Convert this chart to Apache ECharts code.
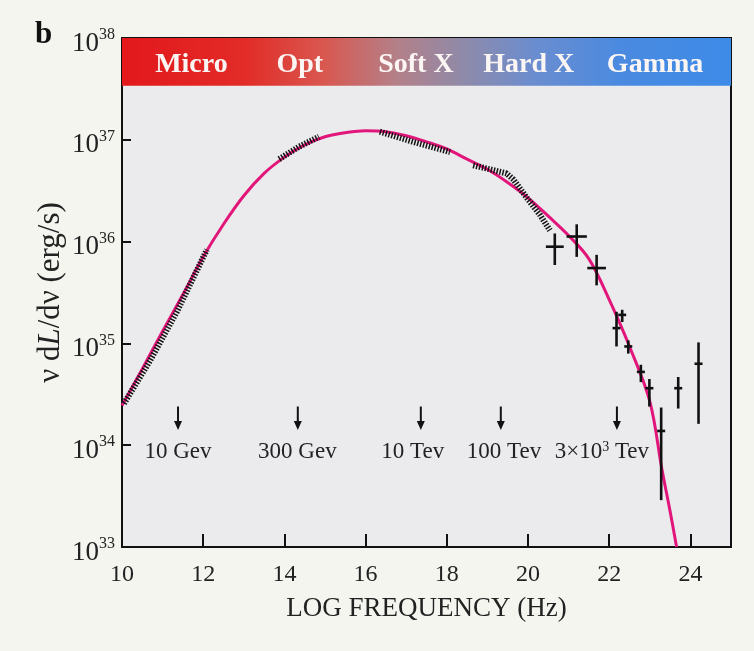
<!DOCTYPE html>
<html>
<head>
<meta charset="utf-8">
<script src="https://cdn.jsdelivr.net/npm/echarts@6/dist/echarts.min.js"></script>
<style>
html,body{margin:0;padding:0;background:#f5f5f0;}
#c{width:754px;height:651px;}
</style>
</head>
<body>
<div id="c"></div>
<script>
// ---- data (log10 of nu dL/dnu, erg/s) ----
const xTickValues = [10, 12, 14, 16, 18, 20, 22, 24];
const yDecades = [33, 34, 35, 36, 37, 38];

const curveX    = [10, 10.5, 11, 11.5, 12, 12.5, 13, 13.5, 14, 14.5, 15, 15.5, 16, 16.5, 17, 17.5, 18, 18.5, 19, 19.5, 20, 20.5, 21, 21.5, 22, 22.5, 23, 23.3, 23.5, 23.66];
const curveLogY = [34.39, 34.75, 35.12, 35.48, 35.85, 36.17, 36.45, 36.67, 36.83, 36.95, 37.03, 37.07, 37.09, 37.08, 37.04, 36.98, 36.91, 36.81, 36.71, 36.58, 36.43, 36.25, 36.06, 35.83, 35.43, 34.97, 34.43, 33.76, 33.35, 33.00];

// dense measured segments (hatched)
const hatchRadioX = [10.05, 10.69, 11.35, 12.09];
const hatchRadioY = [34.41, 34.83, 35.31, 35.92];
const hatchOptX = [13.87, 14.35, 14.85];
const hatchOptY = [36.81, 36.93, 37.03];
const hatchSoftX = [16.35, 17.17, 18.08];
const hatchSoftY = [37.08, 36.98, 36.88];
const hatchHardX = [18.65, 19.47, 19.64, 19.97, 20.30, 20.54];
const hatchHardY = [36.75, 36.67, 36.61, 36.43, 36.26, 36.11];

// gamma-ray points with error bars
const gammaX    = [20.66, 21.20, 21.69, 22.18, 22.32, 22.47, 22.78, 22.99, 23.28, 23.70, 24.20];
const gammaY    = [35.95, 36.05, 35.74, 35.15, 35.28, 34.97, 34.72, 34.56, 34.14, 34.56, 34.80];
const gammaXErr = [0.22, 0.25, 0.23, 0.08, 0.08, 0.08, 0.08, 0.08, 0.06, 0.07, 0.0];
const gammaYLo  = [35.77, 35.85, 35.57, 34.97, 35.21, 34.90, 34.62, 34.38, 33.46, 34.36, 34.21];
const gammaYHi  = [36.08, 36.17, 35.87, 35.31, 35.33, 35.03, 34.79, 34.65, 34.37, 34.67, 35.01];

// energy markers
const energyX      = [11.38, 14.33, 17.36, 19.33, 22.19];
const energyLabelX = [11.38, 14.32, 17.16, 19.41, 21.82];
const energyLabels = ['10 Gev', '300 Gev', '10 Tev', '100 Tev', '3×10{s|3} Tev'];

// spectral bands
const bandNames = ['Micro', 'Opt', 'Soft X', 'Hard X', 'Gamma'];
const bandX     = [11.71, 14.38, 17.24, 20.02, 23.13];

// ---- build ----
const P = v => Math.pow(10, v);
const FONT = '"Liberation Serif", "DejaVu Serif", serif';

const curveData = curveX.map((x, i) => [x, P(curveLogY[i])]);
const hatch = (xs, ys) => xs.map((x, i) => [x, P(ys[i])]);
const gammaData = gammaX.map((x, i) => [x, P(gammaY[i]), gammaXErr[i], P(gammaYLo[i]), P(gammaYHi[i])]);
const energyData = energyX.map((x, i) => [x, P(34), energyLabelX[i]]);
const bandLabelData = bandX.map((x, i) => ({ name: bandNames[i], value: [x, P(37.74)] }));

const ARROW_TOP = 34.38, ARROW_TIP = 34.15, LABEL_Y = 33.93;

function hatchSeries(data) {
  return {
    type: 'line', data: data, symbol: 'none', silent: true, z: 4,
    lineStyle: { color: '#141414', width: 6, type: [1.5, 1.5] }
  };
}

const chart = echarts.init(document.getElementById('c'));
chart.setOption({
  animation: false,
  backgroundColor: '#f5f5f0',
  title: {
    text: 'b', left: 30, top: 14,
    textStyle: { fontFamily: FONT, fontSize: 31, fontWeight: 'bold', color: '#111' }
  },
  grid: {
    left: 122, right: 23, top: 38, bottom: 104,
    show: true, backgroundColor: '#ebebee', borderColor: '#111', borderWidth: 2,
    outerBoundsMode: 'none'
  },
  xAxis: {
    type: 'value', min: 10, max: 25, interval: 2,
    name: 'LOG FREQUENCY (Hz)', nameLocation: 'middle', nameGap: 48, nameMoveOverlap: false,
    nameTextStyle: { fontFamily: FONT, fontSize: 27, color: '#222' },
    axisLine: { show: true, lineStyle: { color: '#111', width: 2 } },
    axisTick: { show: true, inside: true, length: 13, lineStyle: { color: '#111', width: 2 } },
    axisLabel: { fontFamily: FONT, fontSize: 24, color: '#222', margin: 16,
      formatter: v => (xTickValues.indexOf(v) >= 0 ? String(v) : '') },
    splitLine: { show: false }
  },
  yAxis: {
    type: 'log', logBase: 10, min: P(yDecades[0]), max: P(yDecades[yDecades.length - 1]),
    name: 'ν d{i|L}/dν (erg/s)', nameLocation: 'middle', nameRotate: 90, nameGap: 56, nameMoveOverlap: false,
    nameTextStyle: { fontFamily: FONT, fontSize: 31, color: '#222',
      rich: { i: { fontFamily: FONT, fontSize: 31, fontStyle: 'italic', color: '#222' } } },
    axisLine: { show: true, lineStyle: { color: '#111', width: 2 } },
    axisTick: { show: true, inside: true, length: 9, lineStyle: { color: '#111', width: 2 } },
    minorTick: { show: false },
    axisLabel: {
      margin: 7,
      padding: [8, 0, 0, 0],
      formatter: v => '{a|10}{e|' + Math.round(Math.log10(v)) + '}',
      rich: {
        a: { fontFamily: FONT, fontSize: 27, color: '#222', lineHeight: 30, verticalAlign: 'bottom' },
        e: { fontFamily: FONT, fontSize: 16, color: '#222', lineHeight: 13, verticalAlign: 'top' }
      }
    },
    splitLine: { show: false }
  },
  series: [
    {
      name: 'model', type: 'line', data: curveData, symbol: 'none', smooth: 0.35, z: 3,
      lineStyle: { color: '#e2167a', width: 3 },
      markArea: {
        silent: true,
        itemStyle: {
          color: new echarts.graphic.LinearGradient(0, 0, 1, 0, [
            { offset: 0, color: '#e3181c' },
            { offset: 0.2, color: '#e22b27' },
            { offset: 0.33, color: '#d9574f' },
            { offset: 0.45, color: '#b48088' },
            { offset: 0.56, color: '#8f8aa9' },
            { offset: 0.68, color: '#6a8dd0' },
            { offset: 0.82, color: '#4a8ae0' },
            { offset: 1, color: '#3d8be8' }
          ]),
          opacity: 1
        },
        data: [[{ xAxis: 10, yAxis: P(37.53) }, { xAxis: 25, yAxis: P(38) }]]
      }
    },
    hatchSeries(hatch(hatchRadioX, hatchRadioY)),
    hatchSeries(hatch(hatchOptX, hatchOptY)),
    hatchSeries(hatch(hatchSoftX, hatchSoftY)),
    hatchSeries(hatch(hatchHardX, hatchHardY)),
    {
      name: 'gamma', type: 'custom', data: gammaData, encode: { x: 0, y: 1 }, z: 5, silent: true,
      renderItem: function (params, api) {
        const x = api.value(0), y = api.value(1), xe = api.value(2);
        const c = api.coord([x, y]);
        const r = api.coord([x + xe, y]);
        const lo = api.coord([x, api.value(3)]), hi = api.coord([x, api.value(4)]);
        const st = { stroke: '#111', lineWidth: 2.6 };
        const ch = [{ type: 'line', shape: { x1: c[0], y1: hi[1], x2: c[0], y2: lo[1] }, style: st }];
        const hw = Math.max(r[0] - c[0], 4);
        ch.push({ type: 'line', shape: { x1: c[0] - hw, y1: c[1], x2: c[0] + hw, y2: c[1] }, style: st });
        return { type: 'group', children: ch };
      }
    },
    {
      name: 'energy', type: 'custom', data: energyData, encode: { x: 0, y: 1 }, z: 6, silent: true, clip: false,
      renderItem: function (params, api) {
        const x = api.value(0), lx = api.value(2);
        const top = api.coord([x, P(ARROW_TOP)]);
        const tip = api.coord([x, P(ARROW_TIP)]);
        const lab = api.coord([lx, P(LABEL_Y)]);
        return {
          type: 'group',
          children: [
            { type: 'line', shape: { x1: top[0], y1: top[1], x2: tip[0], y2: tip[1] - 6 },
              style: { stroke: '#111', lineWidth: 2 } },
            { type: 'polygon', shape: { points: [[tip[0] - 4, tip[1] - 9], [tip[0] + 4, tip[1] - 9], [tip[0], tip[1]]] },
              style: { fill: '#111' } },
            { type: 'text', x: lab[0], y: lab[1],
              style: { text: energyLabels[params.dataIndex], fontFamily: FONT, fontSize: 23, fill: '#222',
                align: 'center', verticalAlign: 'middle',
                rich: { s: { fontFamily: FONT, fontSize: 14, fill: '#222', verticalAlign: 'top', lineHeight: 14 } } } }
          ]
        };
      }
    },
    {
      name: 'bands', type: 'custom', data: bandLabelData, encode: { x: 0, y: 1 }, z: 7, silent: true, clip: false,
      renderItem: function (params, api) {
        const p = api.coord([api.value(0), api.value(1)]);
        return { type: 'text', x: p[0], y: p[1],
          style: { text: bandNames[params.dataIndex], fontFamily: FONT, fontSize: 28, fontWeight: 'bold',
            fill: '#fbf6f4', align: 'center', verticalAlign: 'middle' } };
      }
    }
  ]
});
</script>
</body>
</html>
